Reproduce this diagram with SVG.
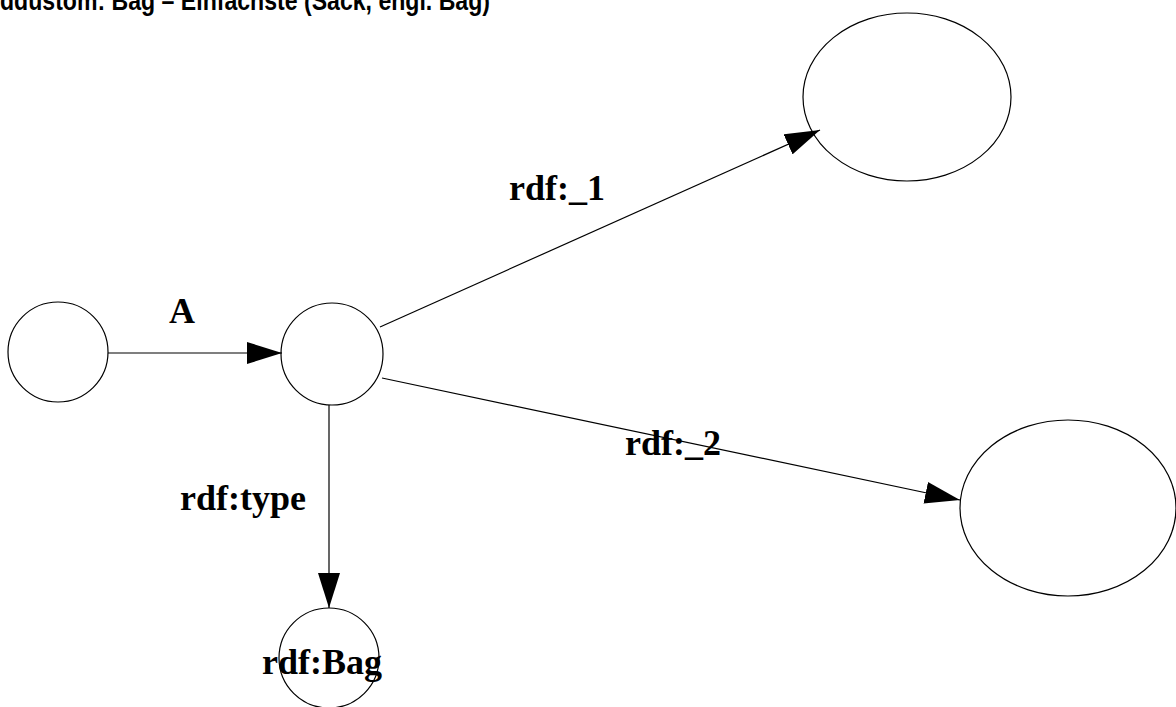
<svg xmlns="http://www.w3.org/2000/svg" width="1176" height="707" viewBox="0 0 1176 707">
<style>
.n{fill:none;stroke:#000;stroke-width:1.2}
.e{stroke:#000;stroke-width:1.2;fill:none}
.l{font-family:"Liberation Serif","Times New Roman",serif;font-weight:bold;font-size:36px;fill:#000;text-anchor:middle}
.t{font-family:"Liberation Sans",Arial,sans-serif;font-weight:bold;font-size:28px;fill:#000}
</style>
<defs>
<marker id="ah" markerUnits="userSpaceOnUse" markerWidth="36" markerHeight="22" refX="35" refY="11" orient="auto">
<path d="M0,0 L35,11 L0,22 Z" fill="#000"/>
</marker>
</defs>
<rect width="1176" height="707" fill="#fff"/>
<text class="t" x="0" y="10" textLength="490" lengthAdjust="spacingAndGlyphs">ddustom: Bag – Einfachste (Sack, engl. Bag)</text>
<g id="connectors">
<line class="e" x1="108" y1="353" x2="282" y2="353" marker-end="url(#ah)"/>
<line class="e" x1="380" y1="327" x2="820" y2="130" marker-end="url(#ah)"/>
<line class="e" x1="382" y1="378" x2="960" y2="500" marker-end="url(#ah)"/>
<line class="e" x1="329" y1="405" x2="329" y2="608" marker-end="url(#ah)"/>
<text class="l" x="182" y="323">A</text>
<text class="l" x="557" y="200">rdf:_1</text>
<text class="l" x="673" y="455">rdf:_2</text>
<text class="l" x="243" y="510">rdf:type</text>
</g>
<g id="n1"><circle class="n" cx="58" cy="352" r="50"/></g>
<g id="n2"><circle class="n" cx="332" cy="354" r="51"/></g>
<g id="n3"><ellipse class="n" cx="907" cy="97" rx="104" ry="84"/></g>
<g id="n4"><ellipse class="n" cx="1068" cy="508" rx="108" ry="88"/></g>
<g id="n5"><circle class="n" cx="329" cy="658" r="50"/><text class="l" x="322" y="674">rdf:Bag</text></g>
</svg>
